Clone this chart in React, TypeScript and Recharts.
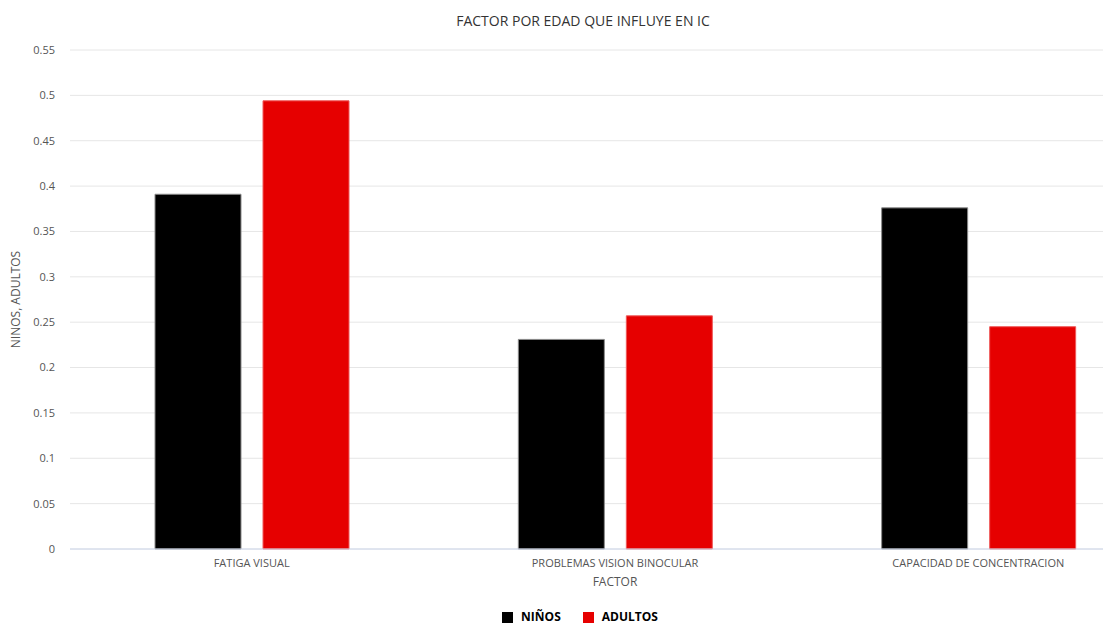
import { BarChart, Bar, XAxis, YAxis, CartesianGrid, Legend } from "recharts";

const factors = ["FATIGA VISUAL", "PROBLEMAS VISION BINOCULAR", "CAPACIDAD DE CONCENTRACION"];
const ninos = [0.391, 0.231, 0.376];
const adultos = [0.494, 0.257, 0.245];
const yTicks = [0, 0.05, 0.1, 0.15, 0.2, 0.25, 0.3, 0.35, 0.4, 0.45, 0.5, 0.55];

const seriesInfo = [
    { key: "ninos", name: "NIÑOS", color: "#000000", stroke: "#8a8a8a" },
    { key: "adultos", name: "ADULTOS", color: "#e60000", stroke: "#ef5a5a" },
];

const data = factors.map((factor, i) => ({ factor, ninos: ninos[i], adultos: adultos[i] }));

const FONT = "'Open Sans', 'Noto Sans', sans-serif";

const renderLegend = () => (
    <div style={styles.legend}>
        {seriesInfo.map((s) => (
            <span key={s.key} style={styles.legendItem}>
                <span style={{ ...styles.swatch, background: s.color }} />
                {s.name}
            </span>
        ))}
    </div>
);

export default function App() {
    return (
        <div style={styles.frame}>
            <div style={styles.title}>FACTOR POR EDAD QUE INFLUYE EN IC</div>
            <BarChart
                width={1166}
                height={625}
                data={data}
                margin={{ top: 50, right: 6, bottom: 0, left: 0 }}
                barSize={86}
                barGap={22}
            >
                <CartesianGrid vertical={false} stroke="#e6e6e6" />
                <XAxis
                    dataKey="factor"
                    axisLine={{ stroke: "#ccd6eb" }}
                    tickLine={false}
                    tickSize={0}
                    tickMargin={10}
                    height={52}
                    tick={{ fill: "#555", fontSize: 11, fontFamily: FONT }}
                    label={{ value: "FACTOR", position: "insideBottom", offset: 15, fill: "#555", fontSize: 12, fontFamily: FONT }}
                />
                <YAxis
                    domain={[0, 0.55]}
                    ticks={yTicks}
                    width={70}
                    axisLine={false}
                    tickLine={false}
                    tickSize={0}
                    tickMargin={15}
                    tick={{ fill: "#555", fontSize: 11, fontFamily: FONT }}
                    label={{ value: "NINOS, ADULTOS", angle: -90, position: "insideLeft", offset: 16, fill: "#555", fontSize: 12, fontFamily: FONT, style: { textAnchor: "middle" } }}
                />
                <Legend verticalAlign="bottom" content={renderLegend} wrapperStyle={{ bottom: 0 }} />
                {seriesInfo.map((s) => (
                    <Bar key={s.key} dataKey={s.key} name={s.name} fill={s.color} stroke={s.stroke} strokeWidth={1} isAnimationActive={false} />
                ))}
            </BarChart>
        </div>
    );
}

const styles: Record<string, React.CSSProperties> = {
    frame: { position: "absolute", left: 0, top: 0, width: 1103, height: 625, overflow: "hidden", background: "white" },
    title: {
        position: "absolute", left: 0, top: 11, width: 1166, textAlign: "center",
        fontFamily: FONT, fontSize: 14, color: "#333",
    },
    legend: {
        display: "flex", justifyContent: "center", gap: 22, boxSizing: "border-box", height: 24, paddingTop: 8, alignItems: "center",
        fontFamily: FONT, fontSize: 12, lineHeight: "16px", fontWeight: 700, color: "#000",
    },
    legendItem: { display: "flex", alignItems: "center", gap: 8 },
    swatch: { display: "inline-block", width: 11, height: 11 },
};
